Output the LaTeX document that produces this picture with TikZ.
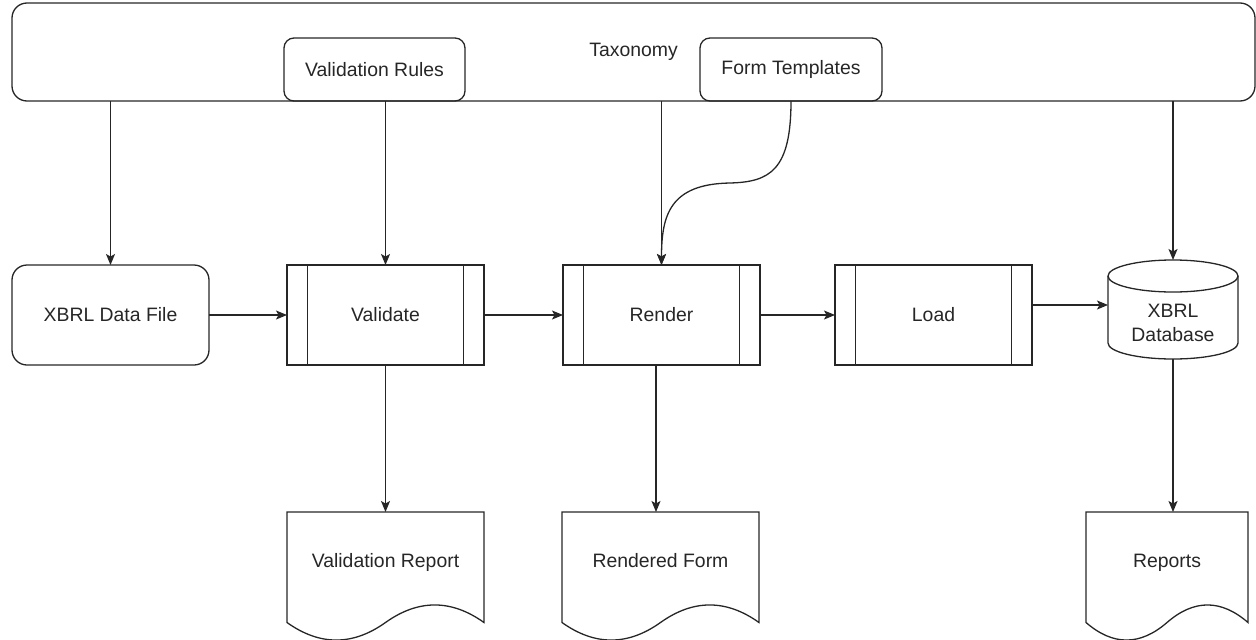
\documentclass[tikz,border=0pt]{standalone}
\usepackage{fontspec}
\setmainfont{Liberation Sans}
\usetikzlibrary{arrows.meta,calc}

% outline of a "document" shape with a wavy lower edge; #1 node name, #2 node width
\newcommand\docoutline[2]{%
  \draw[edgeline] (#1.north west) -- (#1.north east)
    -- ($(#1.north east)!0.85!(#1.south east)$)
    .. controls ($(#1.north east)!0.67!(#1.south east)+(-#2/6,0)$)
            and ($(#1.north)!0.67!(#1.south)+(#2/6,0)$)
    .. ($(#1.north)!0.85!(#1.south)$)
    .. controls ($(#1.north)!1.03!(#1.south)+(-#2/6,0)$)
            and ($(#1.north west)!1.03!(#1.south west)+(#2/6,0)$)
    .. ($(#1.north west)!0.85!(#1.south west)$) -- cycle;}

\begin{document}
\begin{tikzpicture}[x=1pt,y=-1pt,
  edgeline/.style={draw=black!85, line width=1.3pt},
  every node/.style={font=\fontsize{19.4}{24}\selectfont, text=black!85},
  conn/.style={edgeline, -{Stealth[length=11pt,width=9pt,inset=2.5pt]}},
  roundbox/.style={edgeline, rounded corners=#1, inner sep=0pt, outer sep=0pt},
  roundbox/.default=15pt,
  procbox/.style={edgeline, minimum width=197pt, minimum height=100pt,
    inner sep=0pt, outer sep=0pt,
    path picture={\draw[edgeline]
      ([xshift=20.5pt]path picture bounding box.north west) --
      ([xshift=20.5pt]path picture bounding box.south west)
      ([xshift=-20.5pt]path picture bounding box.north east) --
      ([xshift=-20.5pt]path picture bounding box.south east);}},
  docbox/.style={minimum height=130pt, inner sep=0pt, outer sep=0pt,
    text height=14pt, text depth=34pt},
]
\path[use as bounding box] (0,0) rectangle (1256,640);

% top band and the two boxes sitting on its lower edge
\node[roundbox, minimum width=1243pt, minimum height=98pt] (tax) at (633.5,52) {Taxonomy};
\node[roundbox=10pt, minimum width=181pt, minimum height=63pt] (rules) at (374.5,69.5) {Validation Rules};
\node[roundbox=10pt, minimum width=182pt, minimum height=63pt] (forms) at (791,69.5) {Form Templates};

% main row
\node[roundbox, minimum width=197pt, minimum height=100pt] (xbrl) at (110.5,315) {XBRL Data File};
\node[procbox] (validate) at (385.5,315) {Validate};
\node[procbox] (render) at (661.5,315) {Render};
\node[procbox] (load) at (933.5,315) {Load};
\node[minimum width=130pt, minimum height=99pt, inner sep=0pt, outer sep=0pt,
  label={[align=center, yshift=-13.5pt]center:{XBRL\\Database}}] (db) at (1173,309.5) {};

% database cylinder
\draw[edgeline] ($(db.north)+(0,16)$) ellipse [x radius=65pt, y radius=16pt];
\draw[edgeline] ($(db.north west)+(0,16)$) -- ($(db.south west)+(0,-16)$)
  .. controls +(0,8.84) and +(-35.9,0) .. (db.south)
  .. controls +(35.9,0) and +(0,8.84) .. ($(db.south east)+(0,-16)$)
  -- ($(db.north east)+(0,16)$);

% output documents
\node[docbox, minimum width=197pt] (vrep) at (385.5,577) {Validation Report};
\node[docbox, minimum width=197pt] (rform) at (660.5,577) {Rendered Form};
\node[docbox, minimum width=162pt] (reports) at (1167,577) {Reports};
\docoutline{vrep}{197}
\docoutline{rform}{197}
\docoutline{reports}{162}

% connectors
\draw[conn] (tax.south -| xbrl.north) -- (xbrl.north);
\draw[conn] (rules.south -| validate.north) -- (validate.north);
\draw[conn] (tax.south -| render.north) -- (render.north);
\draw[conn] (forms.south)
  .. controls ($(forms.south)+(0,69)$) and ($(forms.south)+(-21,81)$) .. ($(forms.south)+(-61,82)$)
  .. controls ($(render.north)+(8.5,-81)$) and ($(render.north)+(0,-50)$) .. (render.north);
\draw[conn] (tax.south -| db.north) -- (db.north);
\draw[conn] (xbrl) -- (validate);
\draw[conn] (validate) -- (render);
\draw[conn] (render) -- (load);
\draw[conn] ([yshift=10pt]load.east) -- ([yshift=10pt]load.east -| db.west);
\draw[conn] (validate.south) -- (vrep.north);
\draw[conn] ([xshift=-5.5pt]render.south) -- ([xshift=-5.5pt]render.south |- rform.north);
\draw[conn] (db.south) -- (db.south |- reports.north);
\end{tikzpicture}
\end{document}
